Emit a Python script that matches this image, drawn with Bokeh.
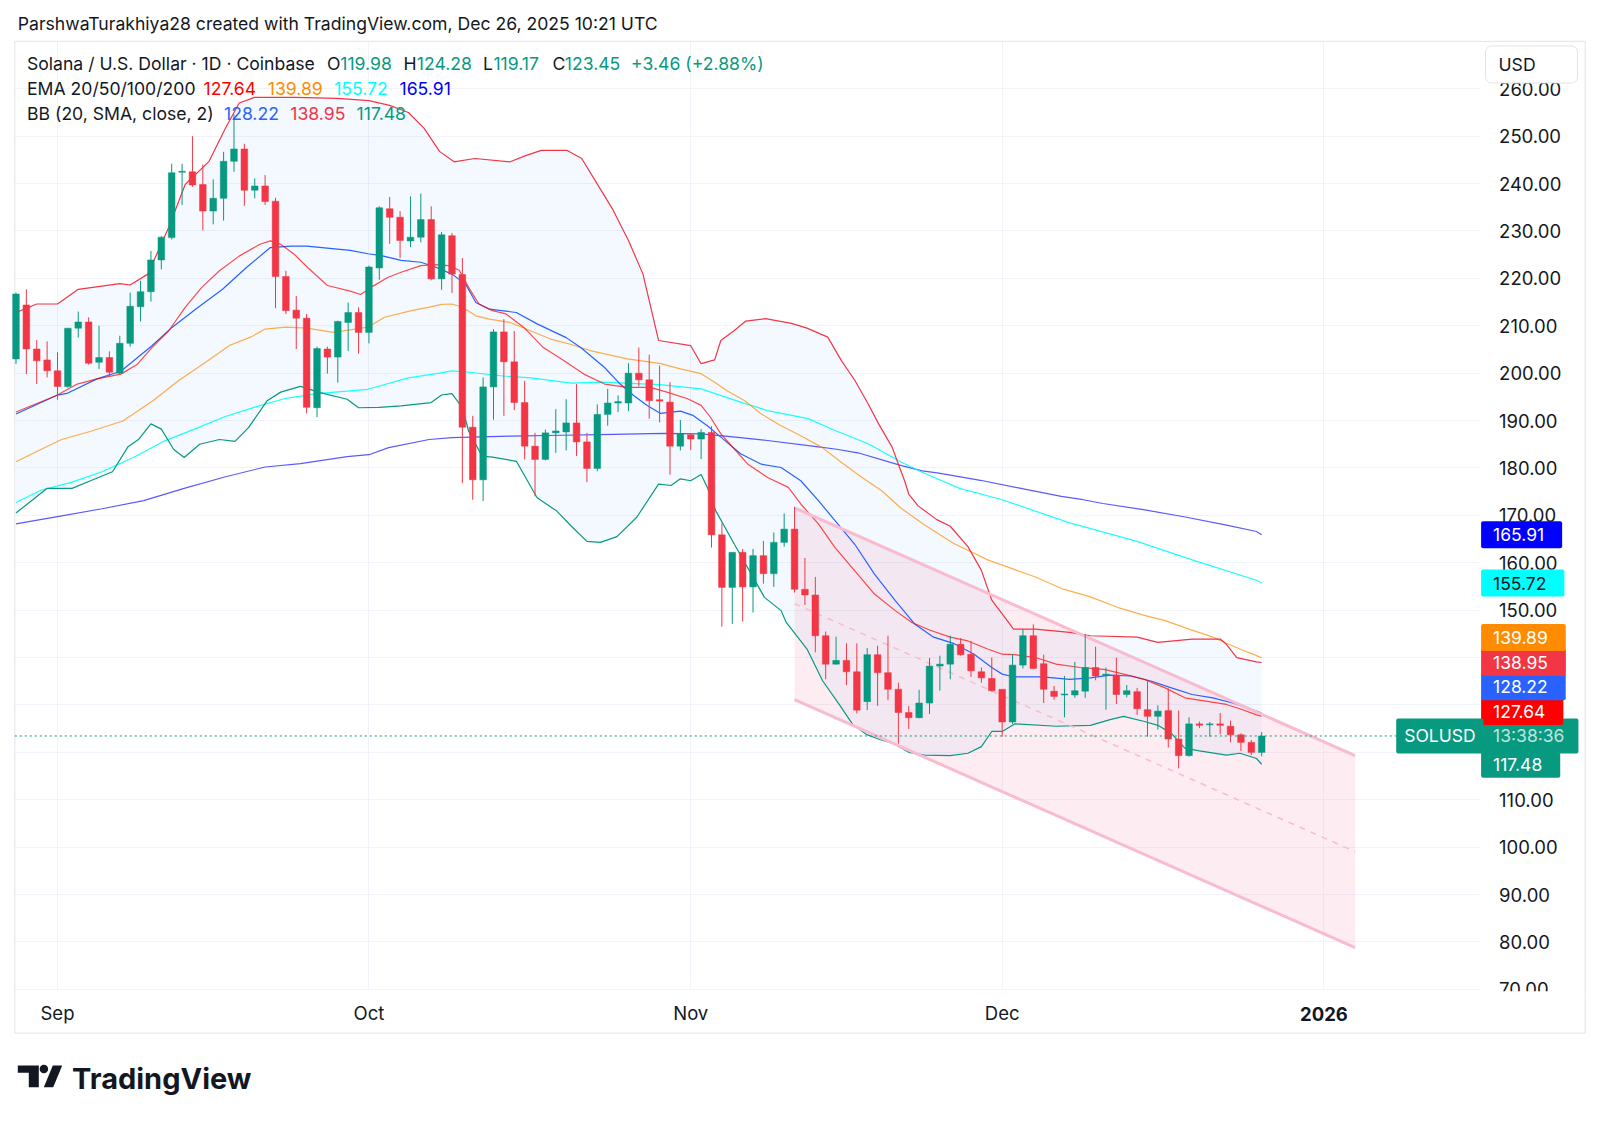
import pandas as pd
from bokeh.plotting import figure
from bokeh.models import Range1d, FixedTicker, NumeralTickFormatter, Label
from bokeh.embed import file_html
from bokeh.resources import INLINE

# ---------------- data ----------------
start_date = "2025-08-28"
opens = [203.0, 214.4, 205.1, 202.8, 200.5, 197.2, 209.5, 210.8, 202.3, 203.3,
         200.0, 206.3, 214.0, 217.2, 223.9, 228.6, 242.4, 242.5, 239.8, 234.2,
         236.9, 244.7, 247.3, 238.6, 239.5, 236.3, 220.4, 213.3, 211.6, 192.7,
         205.1, 203.4, 210.7, 212.8, 208.6, 222.2, 234.7, 232.9, 227.9, 228.7,
         232.4, 219.9, 229.0, 220.8, 188.6, 177.5, 197.1, 208.7, 202.4, 193.8,
         184.6, 181.8, 187.4, 187.6, 189.5, 185.5, 179.9, 191.3, 193.7, 193.7,
         200.0, 198.6, 194.4, 193.9, 184.6, 187.0, 186.1, 187.5, 165.9, 154.8,
         162.2, 154.9, 161.5, 157.7, 164.3, 167.1, 154.4, 153.2, 144.6, 138.6,
         139.4, 137.0, 130.7, 140.6, 136.8, 133.3, 128.4, 127.3, 130.4, 138.2,
         138.6, 142.8, 140.7, 137.0, 135.6, 133.3, 126.4, 138.4, 144.6, 138.7,
         132.9, 132.1, 132.1, 132.9, 137.9, 136.2, 136.3, 132.2, 132.8, 129.0,
         127.6, 128.8, 122.8, 119.3, 126.0, 125.8, 126.0, 125.5, 123.7, 122.1,
         119.98]
highs = [217.0, 217.7, 207.0, 206.7, 204.4, 209.5, 213.0, 211.8, 210.0, 204.6,
         207.9, 217.0, 219.5, 225.8, 228.9, 244.2, 244.2, 250.0, 244.0, 240.9,
         246.7, 254.6, 248.4, 241.1, 241.8, 237.0, 221.6, 216.3, 212.5, 205.6,
         205.6, 211.1, 214.9, 213.9, 222.7, 235.2, 237.2, 234.2, 237.3, 237.9,
         235.2, 229.8, 229.6, 224.3, 191.0, 199.1, 209.3, 211.4, 208.9, 198.4,
         187.4, 188.1, 192.4, 194.5, 197.7, 187.4, 193.4, 196.7, 195.3, 202.1,
         205.4, 203.9, 201.6, 198.1, 190.1, 187.2, 188.2, 188.8, 168.3, 162.2,
         162.9, 162.9, 164.6, 166.4, 170.4, 171.8, 161.0, 157.0, 145.5, 144.4,
         143.0, 143.0, 142.0, 142.5, 144.6, 134.7, 129.8, 133.2, 139.9, 140.4,
         144.6, 144.1, 143.5, 137.9, 140.0, 133.3, 140.7, 146.0, 147.0, 140.6,
         134.0, 136.1, 139.1, 145.0, 142.3, 137.9, 140.0, 134.2, 133.6, 135.0,
         129.9, 133.5, 128.8, 127.4, 126.5, 126.4, 128.3, 126.7, 124.0, 122.6,
         124.28]
lows = [201.9, 199.8, 197.7, 199.1, 194.4, 196.9, 207.5, 201.8, 200.9, 199.3,
        199.8, 205.6, 210.9, 215.1, 221.9, 228.2, 235.5, 239.3, 230.1, 231.4,
        232.2, 242.5, 235.3, 236.9, 235.5, 213.7, 212.5, 205.1, 191.5, 190.7,
        199.9, 198.0, 204.7, 204.1, 206.3, 219.7, 227.3, 224.3, 226.6, 227.6,
        219.6, 217.6, 216.9, 176.8, 173.3, 173.0, 190.2, 191.0, 192.2, 181.8,
        174.0, 181.6, 183.2, 183.7, 182.5, 177.0, 179.3, 188.9, 191.8, 192.0,
        197.2, 190.4, 189.6, 178.6, 183.7, 183.8, 181.9, 163.2, 146.5, 147.1,
        147.6, 149.5, 155.6, 154.9, 163.4, 153.7, 151.1, 141.1, 135.4, 138.5,
        134.2, 128.2, 128.9, 129.8, 131.0, 121.8, 124.9, 127.2, 128.1, 133.0,
        135.4, 140.4, 135.9, 134.7, 132.8, 123.3, 126.0, 137.7, 137.5, 130.4,
        131.1, 127.4, 131.5, 131.5, 135.2, 129.0, 130.2, 131.6, 127.9, 123.3,
        124.8, 121.0, 116.6, 119.1, 125.1, 123.3, 123.8, 122.1, 120.3, 119.4,
        119.17]
closes = [216.7, 205.1, 202.6, 200.5, 197.2, 209.5, 210.8, 202.1, 203.3, 200.2,
          206.3, 214.1, 217.2, 223.9, 228.7, 242.3, 242.6, 239.7, 234.2, 236.9,
          244.7, 247.3, 238.6, 239.5, 236.2, 220.4, 213.2, 211.6, 192.8, 205.2,
          203.4, 210.9, 212.8, 208.6, 222.4, 234.9, 232.9, 228.0, 228.7, 232.4,
          219.9, 229.2, 220.9, 188.6, 177.5, 197.1, 208.7, 202.4, 193.8, 184.6,
          181.8, 187.4, 187.8, 189.5, 185.5, 179.9, 191.3, 193.7, 194.0, 200.0,
          198.6, 194.2, 194.1, 184.6, 187.2, 186.1, 187.5, 165.9, 154.8, 162.2,
          154.9, 161.5, 157.7, 164.3, 167.1, 154.4, 153.2, 144.6, 138.6, 139.4,
          137.0, 128.9, 140.6, 136.8, 133.3, 128.4, 127.3, 130.4, 138.2, 138.6,
          142.8, 140.6, 137.2, 135.7, 133.0, 126.4, 138.4, 144.6, 137.7, 133.3,
          131.8, 132.3, 133.0, 137.9, 136.1, 136.5, 132.2, 133.0, 129.2, 127.6,
          128.7, 122.8, 119.3, 126.0, 125.7, 126.0, 125.7, 123.7, 122.1, 119.99,
          123.45]

# indicator lines: (day offset from start_date, value)
ema20 = [(0, 191.8), (3.9, 195.3), (5.9, 197.7), (7.8, 198.8), (10.1, 199.8), (11.7, 201.9),
         (13.1, 205.4), (14.7, 208.9), (16.3, 213.9), (17.9, 218.1), (19.6, 221.6), (21.5, 224.7),
         (23.5, 227.2), (24.5, 227.9), (25.5, 227.2), (26.8, 225.1), (28.1, 222.3), (30, 218.5),
         (32.2, 217.3), (33.2, 216.6), (34.2, 218.1), (35.8, 220.2), (37.1, 221.3), (39, 222.7),
         (40.4, 222.9), (41.7, 222.7), (42.7, 221.7), (43.6, 218.1), (44.6, 214.6), (45.9, 213.2),
         (47.2, 212.5), (48.9, 209.7), (50.8, 205.4), (52.8, 202.6), (54.7, 199.8), (56.7, 197.7),
         (58.9, 197.0), (61.1, 197.0), (62.7, 196.0), (64.7, 194.6), (66, 193.2), (66.9, 190.7),
         (67.9, 187.2), (69.2, 184.0), (70.5, 180.8), (72.4, 178.0), (74.4, 175.9), (75.6, 172.4),
         (77.3, 168.2), (78.9, 163.2), (80.8, 158.3), (82.7, 153.4), (84.7, 149.9), (86.3, 147.4),
         (88, 145.8), (90, 144.3), (91.7, 143.5), (93.6, 141.8), (95, 140.7), (96.2, 140.6),
         (98.2, 140.0), (100.2, 138.6), (102.5, 137.9), (104.8, 137.5), (106.7, 136.5),
         (108.7, 135.4), (110.7, 133.6), (112.6, 131.5), (114.6, 130.8), (116.6, 130.1),
         (117.9, 129.2), (119.5, 127.9), (120, 127.64)]
ema50 = [(0, 181.3), (2.4, 183.9), (4.4, 186.0), (7.3, 187.8), (10.3, 189.9), (13.2, 194.2),
         (15.7, 198.5), (18.2, 202.2), (20.6, 205.9), (22.6, 207.6), (24, 209.3), (26, 209.7),
         (28, 209.5), (30.6, 208.6), (33.9, 209.7), (35.5, 211.8), (38.1, 213.2), (39.7, 213.9),
         (41, 214.5), (42, 214.6), (43, 213.9), (44.3, 212.1), (45.6, 211.4), (47.6, 210.7),
         (49.5, 209.0), (51.5, 207.2), (53.4, 206.1), (55.4, 204.7), (58.9, 203.0), (62.1, 202.0),
         (64, 200.9), (66, 199.9), (67.3, 198.1), (68.5, 196.3), (70.2, 194.2), (71.8, 191.4),
         (73.7, 188.9), (75.6, 186.8), (77.6, 184.4), (79.5, 181.2), (81.5, 178.0), (83.4, 175.2),
         (85.2, 171.6), (87.5, 168.0), (90.3, 164.1), (92.3, 162.0), (93.6, 160.6), (95.9, 158.8),
         (98.2, 157.0), (100.8, 154.5), (103.5, 152.8), (106.1, 150.6), (108.7, 148.9),
         (110.7, 147.8), (113, 146.0), (115.3, 144.3), (116.6, 143.0), (117.9, 141.8),
         (119.5, 140.4), (120, 139.89)]
ema100 = [(0, 172.7), (2.4, 175.3), (5.4, 177.0), (8.3, 179.2), (11.3, 182.2), (14.2, 185.6),
          (17.2, 188.2), (20.1, 190.8), (23.1, 192.9), (26, 194.7), (29, 195.7), (31.9, 196.2),
          (33.9, 196.6), (37.8, 199.0), (40.8, 200.0), (42, 200.5), (43.7, 200.2), (46.9, 199.4),
          (49.6, 199.0), (53.5, 197.9), (56.3, 198.1), (62, 197.6), (66, 196.7), (69.8, 193.9),
          (72.4, 192.1), (76.3, 190.4), (78.9, 187.9), (82.1, 185.1), (85.3, 181.2), (87.3, 179.1),
          (90.9, 175.7), (95, 173.3), (101.5, 168.4), (108, 164.5), (113.3, 160.6),
          (119.5, 156.3), (120, 155.72)]
ema200 = [(0, 168.2), (4.4, 169.9), (8.3, 171.4), (12.3, 173.1), (16.2, 175.7), (20.1, 178.1),
          (24, 180.2), (27.4, 180.9), (31.9, 182.4), (34, 182.8), (35.9, 184.3), (39.8, 186.0),
          (42, 186.4), (47.6, 186.7), (52.6, 186.9), (57.5, 187.1), (62.4, 187.3), (66, 187.2),
          (69.3, 186.5), (72.4, 185.8), (77.1, 184.5), (78.9, 184.0), (81.1, 183.2), (85.3, 180.5),
          (87.3, 179.4), (88.9, 178.9), (92.9, 177.4), (96.8, 175.7), (100.7, 174.0),
          (102.8, 173.3), (104.7, 172.5), (108.6, 171.2), (112.5, 169.7), (116.5, 168.0),
          (119.5, 166.6), (120, 165.91)]
bb_basis = [(0, 191.4), (3.9, 195.3), (5, 195.8), (7.8, 198.8), (10.1, 200.4), (13.1, 205.8),
            (15, 209.6), (17.3, 213.5), (19.9, 217.7), (22.2, 222.3), (24.5, 226.5), (26.5, 226.8),
            (28, 226.8), (32.2, 225.9), (33.9, 225.2), (35.2, 224.8), (37.1, 223.8), (39, 223.4),
            (40.4, 222.4), (42, 220.9), (43.3, 218.8), (44.3, 214.9), (45.6, 213.5), (48.2, 212.8),
            (50.2, 210.4), (53, 207.5), (54.4, 205.4), (56.7, 201.2), (58.2, 197.7), (59.5, 195.3),
            (60.8, 193.2), (62.1, 191.5), (64, 192.0), (65.2, 191.1), (66.6, 188.9), (67.9, 186.5),
            (69.8, 183.0), (71.8, 180.8), (73.7, 180.1), (75.6, 177.3), (77.3, 173.1), (78.9, 168.9),
            (80.8, 163.9), (82.7, 157.6), (84.7, 152.0), (86.6, 147.0), (88.4, 144.3), (90.3, 143.0),
            (92.3, 140.7), (94, 137.9), (95, 136.5), (96.2, 135.9), (98.9, 135.9), (101.5, 135.4),
            (103.5, 135.7), (105.4, 136.3), (107.4, 136.1), (109.4, 135.0), (111.3, 133.6),
            (113.3, 132.2), (115.3, 131.5), (117.2, 130.4), (119.5, 128.7), (120, 128.22)]
bb_upper = [(0, 212.8), (2, 214.6), (4, 214.6), (6, 217.7), (10, 218.9), (11, 218.6), (12.7, 220.9),
            (14.7, 230.7), (16.3, 239.8), (18.6, 244.7), (20.2, 251.8), (21.5, 257.0), (23, 258.2),
            (27, 258.2), (31, 258.0), (34, 257.5), (36, 256.5), (37.8, 255.0), (39.3, 251.7),
            (40.8, 246.8), (42.2, 244.6), (44.2, 245.3), (47.6, 244.6), (49.1, 245.9), (50.6, 247.0),
            (53.1, 247.0), (54.5, 245.3), (56, 239.9), (57.5, 234.5), (59, 228.0), (60.4, 220.9),
            (61.9, 206.9), (65, 205.8), (66, 202.0), (67.3, 202.8), (67.9, 206.9), (69.2, 209.0),
            (70.3, 211.0), (72.2, 211.5), (74.7, 210.5), (76.2, 209.5), (78.2, 207.6), (79.5, 202.7),
            (80.8, 198.5), (82.1, 193.5), (83.1, 189.3), (84.4, 184.4), (85, 180.8), (85.6, 177.3),
            (86, 174.5), (86.9, 172.0), (88.7, 169.1), (90, 167.7), (91.7, 163.4), (93, 158.4),
            (94, 152.1), (95, 149.2), (96.1, 146.0), (98.2, 146.0), (101.5, 145.3), (103.5, 144.6),
            (108, 144.3), (110, 143.2), (113.3, 143.9), (116, 143.9), (116.6, 142.8), (117.6, 140.0),
            (119.5, 139.1), (120, 138.95)]
bb_lower = [(0, 170.5), (1.5, 173.1), (3, 175.7), (5.4, 175.7), (7.3, 177.4), (9.3, 179.2),
            (10.8, 184.5), (11.8, 186.0), (13, 189.3), (14, 188.2), (15.2, 183.9), (16.2, 182.2),
            (17.7, 185.0), (19.6, 186.0), (21.1, 185.6), (22.4, 188.5), (24.2, 194.2), (25.5, 196.0),
            (27.4, 197.2), (29.3, 195.9), (31.9, 194.5), (33, 192.7), (35, 192.8), (37.1, 193.1),
            (40, 193.8), (41, 195.4), (42, 195.7), (43, 192.7), (43.6, 187.8), (44.9, 182.5),
            (45.9, 182.3), (48.2, 181.4), (50.2, 173.7), (52.1, 170.9), (53.5, 167.7), (55, 164.5),
            (56.3, 164.3), (57.9, 165.5), (59.8, 169.6), (61.9, 176.6), (63.1, 176.3), (64, 177.7),
            (65, 177.3), (66, 178.6), (66.6, 175.9), (67.4, 171.0), (69.2, 163.9), (72.1, 152.7),
            (73.7, 149.9), (74.2, 147.4), (76.2, 141.8), (77.7, 135.1), (79.3, 130.1), (80.6, 125.9),
            (81.9, 123.8), (83.2, 122.7), (84.5, 121.9), (86, 120.0), (87.5, 119.4), (90, 119.3),
            (91.7, 119.8), (93, 121.2), (94, 124.4), (95, 124.4), (96.2, 126.0), (100.2, 125.5),
            (103.5, 125.7), (105.4, 126.9), (106.7, 127.6), (108.7, 126.5), (110, 125.7),
            (111.3, 124.0), (112.6, 120.9), (114, 120.3), (116.6, 119.4), (117.9, 119.8),
            (119.5, 118.7), (120, 117.48)]

# descending channel drawing
channel_days = [75, 129]
channel_upper = [171.6, 119.3]
channel_lower = [131.1, 78.8]

month_starts = ["2025-09-01", "2025-10-01", "2025-11-01", "2025-12-01", "2026-01-01"]
month_labels = ["Sep", "Oct", "Nov", "Dec", "2026"]
price_ticks = list(range(70, 261, 10))

# ---------------- styles / geometry ----------------
FONT = "Inter"
DARK = "#131722"
UP, DOWN = "#089981", "#F23645"
C_EMA = ["#FF0000", "#FF8C00", "#00FFFF", "#0000FF"]
C_BB = ["#2962FF", "#F23645", "#089981"]
DAY = 86400000


def ms(ts):
    return int(pd.Timestamp(ts).value // 10**6)


T0 = ms(start_date)


def dx(d):
    return T0 + d * DAY


W, H = 1600, 1120
PL, PT, PR, PB = 14.3, 40.8, 1479.6, 988.8        # plot pane in page pixels
BOXR, BOXB = 1584.7, 1032.6                       # outer chart box
PXD = 10.381                                       # pixels per day
PXU = (PB - 135.7) / 180.0                         # pixels per price unit
SEP1 = ms(month_starts[0])


def xd(px):
    return SEP1 + (px - 57.0) / PXD * DAY


def yd(py):
    return 70.0 + (PB - py) / PXU


p = figure(width=W, height=H, x_axis_type="datetime", y_axis_location="right",
           output_backend="svg", toolbar_location=None, title=None,
           x_range=Range1d(xd(0), xd(W)), y_range=Range1d(yd(H), yd(0)),
           min_border=0)
p.background_fill_color = "white"
p.border_fill_color = "white"
p.outline_line_color = None

# axes (placed inside the canvas at the pane edges)
mt = [ms(m) for m in month_starts]
p.xaxis.ticker = FixedTicker(ticks=mt)
p.xaxis.major_label_overrides = {t: (lab if lab != "2026" else "") for t, lab in zip(mt, month_labels)}
p.xaxis.fixed_location = yd(PB)
p.yaxis.ticker = FixedTicker(ticks=price_ticks)
p.yaxis.formatter = NumeralTickFormatter(format="0.00")
p.yaxis.fixed_location = xd(PR)
for ax in (p.xaxis[0], p.yaxis[0]):
    ax.axis_line_color = None
    ax.major_tick_line_color = None
    ax.minor_tick_line_color = None
    ax.major_label_text_font = FONT
    ax.major_label_text_font_size = "18.5px"
    ax.major_label_text_color = DARK
p.xaxis.major_label_standoff = 7
p.yaxis.major_label_standoff = 13
p.xgrid.ticker = FixedTicker(ticks=mt)
p.ygrid.ticker = FixedTicker(ticks=price_ticks)
p.xgrid.cross_bounds = (yd(PB), yd(PT))
p.ygrid.cross_bounds = (xd(PL), xd(PR))
p.grid.grid_line_color = "#F0F3FA"
p.grid.grid_line_width = 1

# outer box
p.quad(left=[xd(PL)], right=[xd(BOXR)], top=[yd(PT)], bottom=[yd(BOXB)],
       fill_color=None, line_color="#E0E3EB", line_width=1)

# Bollinger fill
bx = [dx(d) for d, _ in bb_upper] + [dx(d) for d, _ in reversed(bb_lower)]
by = [v for _, v in bb_upper] + [v for _, v in reversed(bb_lower)]
p.patch(bx, by, fill_color="#2196F3", fill_alpha=0.055, line_color=None)

# channel fill
cx = [dx(channel_days[0]), dx(channel_days[1]), dx(channel_days[1]), dx(channel_days[0])]
cy = [channel_upper[0], channel_upper[1], channel_lower[1], channel_lower[0]]
p.patch(cx, cy, fill_color="#F48FB1", fill_alpha=0.16, line_color=None)


def draw(series, color, alpha=1.0, width=1.2):
    p.line([dx(d) for d, _ in series], [v for _, v in series], line_color=color,
           line_alpha=alpha, line_width=width)


draw(ema200, C_EMA[3], 0.65)
draw(ema100, C_EMA[2], 0.9)
draw(ema50, C_EMA[1], 0.7)
draw(bb_upper, C_BB[1])
draw(bb_lower, C_BB[2])
draw(bb_basis, C_BB[0])
draw(ema20, C_EMA[0], 0.7)

# channel lines
cdx = [dx(d) for d in channel_days]
p.line(cdx, channel_upper, line_color="#F8BBD0", line_width=3)
p.line(cdx, channel_lower, line_color="#F8BBD0", line_width=3)
p.line(cdx, [(a + b) / 2 for a, b in zip(channel_upper, channel_lower)],
       line_color="#F8BBD0", line_width=1.5, line_dash="6 6")

# candles
cd = [dx(i) for i in range(len(opens))]
cols = [UP if c >= o else DOWN for o, c in zip(opens, closes)]
p.segment(x0=cd, y0=lows, x1=cd, y1=highs, line_color=cols, line_width=1)
p.vbar(x=cd, width=0.64 * DAY, top=[max(o, c) for o, c in zip(opens, closes)],
       bottom=[min(o, c) for o, c in zip(opens, closes)], fill_color=cols, line_color=cols,
       line_width=0.5)

# current price line
p.segment(x0=[xd(PL)], x1=[xd(PR)], y0=[closes[-1]], y1=[closes[-1]], line_color=UP,
          line_dash="2 3", line_width=1)

# hide the lower half of the clipped 70.00 label (as in the pane)
p.quad(left=[xd(PR + 1)], right=[xd(BOXR - 1)], top=[yd(PB + 2)], bottom=[yd(PB + 16)],
       fill_color="white", line_color=None, level="overlay")


def label(px, py, text, color=DARK, size="17.6px", style="normal", align="left",
          baseline="middle", **kw):
    p.add_layout(Label(x=xd(px), y=yd(py), text=text, text_color=color, text_font=FONT,
                       text_font_size=size, text_font_style=style, text_align=align,
                       text_baseline=baseline, **kw))


# header
label(17.3, 22.5, "ParshwaTurakhiya28 created with TradingView.com, Dec 26, 2025 10:21 UTC")

# legend lines
chg = closes[-1] - closes[-2]
pct = chg / closes[-2] * 100
l1 = [("Solana / U.S. Dollar · 1D · Coinbase", 26.5, DARK), ("O", 326.5, DARK),
      (f"{opens[-1]:.2f}", 339.8, UP), ("H", 403, DARK), (f"{highs[-1]:.2f}", 416.3, UP),
      ("L", 482.6, DARK), (f"{lows[-1]:.2f}", 492.9, UP), ("C", 552, DARK),
      (f"{closes[-1]:.2f}", 564.3, UP), (f"{chg:+.2f} ({pct:+.2f}%)", 630.6, UP)]
for t, x, c in l1:
    label(x, 63.3, t, c)
emas = [ema20, ema50, ema100, ema200]
label(26.5, 87.8, "EMA 20/50/100/200")
for s, x, c in zip(emas, [203, 267.3, 333.7, 399], C_EMA):
    label(x, 87.8, f"{s[-1][1]:.2f}", c)
bbs = [bb_basis, bb_upper, bb_lower]
label(26.5, 113.3, "BB (20, SMA, close, 2)")
for s, x, c in zip(bbs, [223.5, 289.8, 356.1], C_BB):
    label(x, 113.3, f"{s[-1][1]:.2f}", c)

# bold 2026 tick label
p.add_layout(Label(x=mt[-1], y=yd(1013), text="2026", text_color=DARK, text_font=FONT,
                   text_font_size="18.5px", text_font_style="bold", text_align="center",
                   text_baseline="middle"))

# price-scale tags with simple collision avoidance
tags = [(bb_lower[-1][1], C_BB[2], "white", None),
        (closes[-1], UP, "#BFE3DC", "13:38:36"),
        (ema20[-1][1], C_EMA[0], "white", None),
        (bb_basis[-1][1], C_BB[0], "white", None),
        (bb_upper[-1][1], C_BB[1], "white", None),
        (ema50[-1][1], C_EMA[1], "white", None),
        (ema100[-1][1], C_EMA[2], DARK, None),
        (ema200[-1][1], C_EMA[3], "white", None)]
gap = 24.6 / PXU
prev = -1e9
for v, bg, fg, txt in sorted(tags, key=lambda t: t[0]):
    pos = max(v, prev + gap)
    prev = pos
    p.add_layout(Label(x=xd(PR + 1), y=pos, text=txt or f"{v:.2f}", text_color=fg, text_font=FONT,
                       text_font_size="17.5px", text_align="left", text_baseline="middle",
                       background_fill_color=bg, border_radius=2,
                       padding=dict(left=12, right=(14 if txt else 18), top=7, bottom=7)))
p.add_layout(Label(x=xd(1395.7), y=closes[-1], text="SOLUSD", text_color="white", text_font=FONT,
                   text_font_size="17.5px", text_align="left", text_baseline="middle",
                   background_fill_color=UP, border_radius=2,
                   padding=dict(left=8, right=8, top=7, bottom=7)))

# currency box
label(1485, 64, "USD", background_fill_color="white", border_line_color="#E0E3EB",
      padding=dict(left=13, right=42, top=8, bottom=8), border_radius=6)

# TradingView logo mark + word
p.patch([xd(v) for v in (17.3, 38.3, 38.3, 28.3, 28.3, 17.3)],
        [yd(v) for v in (1065, 1065, 1086.7, 1086.7, 1072.3, 1072.3)],
        fill_color=DARK, line_color=None)
p.scatter([xd(43.4)], [yd(1068.6)], size=8.5, marker="circle", fill_color=DARK, line_color=None)
p.patch([xd(v) for v in (43.3, 52.7, 61.7, 52.3)],
        [yd(v) for v in (1086.7, 1086.7, 1065, 1065)],
        fill_color=DARK, line_color=None)
label(71.5, 1077.5, "TradingView", DARK, size="29px", style="bold", baseline="alphabetic")

open("out.html", "w").write(file_html(p, INLINE))
